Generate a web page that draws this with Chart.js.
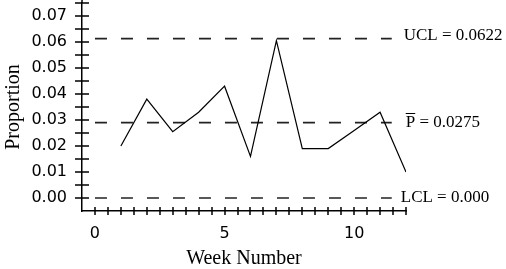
<!DOCTYPE html>
<html>
<head>
<meta charset="utf-8">
<title>Proportion by week</title>
<script src="https://cdn.jsdelivr.net/npm/chart.js@4.4.1/dist/chart.umd.min.js"></script>
<style>
  html, body { margin: 0; padding: 0; background: #fff; }
  #wrap { width: 506px; height: 269px; }
</style>
</head>
<body>
<div id="wrap"><canvas id="pChart" width="506" height="269"></canvas></div>
<script>
'use strict';

// weekly proportions
const weeks = [1, 2, 3, 4, 5, 6, 7, 8, 9, 10, 11, 12];
const proportions = [0.020, 0.038, 0.0255, 0.033, 0.043, 0.016, 0.0605, 0.019, 0.019, 0.026, 0.033, 0.010];

// control lines: level where each is drawn, and its label
const limitLevels = [0.0613, 0.029, 0.000];
const limitLabels = ['UCL = 0.0622', 'P = 0.0275', 'LCL = 0.000'];
const limitSpan = [0, 11.45];

// labelled ticks
const yLabelValues = [0, 0.01, 0.02, 0.03, 0.04, 0.05, 0.06, 0.07];
const xLabelValues = [0, 5, 10];

const tickFont = { family: '"DejaVu Sans", sans-serif', size: 16 };
const serifFont = '"Liberation Serif", "Times New Roman", serif';

const findLabel = function (list, v, digits) {
  for (let i = 0; i < list.length; i++) {
    if (Math.abs(list[i] - v) < 1e-9) return list[i].toFixed(digits);
  }
  return '';
}

/**
 * Small tick marks crossing both axes
 */
const axisTicks = {
  id: 'axisTicks',
  afterDraw(chart) {
    const { ctx, chartArea, scales: { x, y } } = chart;
    ctx.save();
    ctx.strokeStyle = '#000';
    ctx.lineWidth = 1.5;
    ctx.beginPath();
    y.ticks.forEach(t => {
      if (Math.abs(t.value - y.min) < 1e-9) return;
      const py = Math.round(y.getPixelForValue(t.value));
      ctx.moveTo(chartArea.left - 7, py);
      ctx.lineTo(chartArea.left + 7, py);
    });
    x.ticks.forEach(t => {
      if (Math.abs(t.value - x.min) < 1e-9) return;
      const px = Math.round(x.getPixelForValue(t.value));
      ctx.moveTo(px, chartArea.bottom - 4);
      ctx.lineTo(px, chartArea.bottom + 4);
    });
    // axis line runs a little above the top tick
    ctx.moveTo(chartArea.left, chartArea.top);
    ctx.lineTo(chartArea.left, 0);
    ctx.stroke();
    ctx.restore();
  }
};

/**
 * Text at the right end of each control line
 */
const limitText = {
  id: 'limitText',
  afterDatasetsDraw(chart) {
    const { ctx, scales: { x, y } } = chart;
    const xEnd = x.getPixelForValue(limitSpan[1]);
    const gaps = [12, 14, 9];
    const lifts = [-3, 0, 0];
    ctx.save();
    ctx.fillStyle = '#000';
    ctx.font = '17px ' + serifFont;
    ctx.textBaseline = 'middle';
    ctx.textAlign = 'left';
    for (let i = 0; i < limitLabels.length; i++) {
      const tx = xEnd + gaps[i];
      const ty = y.getPixelForValue(limitLevels[i]) + lifts[i];
      ctx.fillText(limitLabels[i], tx, ty);
      // bar over the P of the centre line label
      if (i === 1) {
        const w = ctx.measureText('P').width;
        ctx.strokeStyle = '#000';
        ctx.lineWidth = 1;
        ctx.beginPath();
        ctx.moveTo(tx, Math.round(ty) - 9.5);
        ctx.lineTo(tx + w, Math.round(ty) - 9.5);
        ctx.stroke();
      }
    }
    ctx.restore();
  }
};

// keep tick label overhang from pushing the plot area inwards
const noOverhang = function (scale) {
  scale.paddingTop = 0;
  scale.paddingBottom = 0;
  scale.paddingLeft = 0;
  scale.paddingRight = 0;
}

const limitSets = limitLevels.map(level => ({
  data: [{ x: limitSpan[0], y: level }, { x: limitSpan[1], y: level }],
  borderColor: '#222',
  borderWidth: 1.6,
  borderDash: [12, 14],
  pointRadius: 0,
  fill: false
}));

const ctx = document.getElementById('pChart').getContext('2d');

const pChart = new Chart(ctx, {
  type: 'line',
  data: {
    datasets: [{
      data: weeks.map((w, i) => ({ x: w, y: proportions[i] })),
      borderColor: '#000',
      borderWidth: 1.2,
      pointRadius: 0,
      tension: 0,
      fill: false
    }].concat(limitSets)
  },
  options: {
    responsive: false,
    animation: false,
    layout: { padding: { top: 3, right: 100, bottom: 0, left: 0 } },
    plugins: {
      legend: { display: false },
      tooltip: { enabled: false }
    },
    scales: {
      x: {
        type: 'linear',
        min: -0.5,
        max: 12,
        afterFit(scale) { scale.height = 58; noOverhang(scale); },
        grid: { display: true, drawOnChartArea: false, drawTicks: false },
        border: { display: true, color: '#000', width: 1.5 },
        ticks: {
          stepSize: 0.5,
          autoSkip: false,
          maxRotation: 0,
          padding: 13,
          color: '#000',
          font: tickFont,
          callback: v => findLabel(xLabelValues, v, 0)
        },
        title: {
          display: true,
          text: 'Week Number',
          color: '#000',
          font: { family: serifFont, size: 20, lineHeight: 1 },
          padding: { top: 0, bottom: 0 }
        }
      },
      y: {
        type: 'linear',
        min: -0.005,
        max: 0.075,
        afterFit(scale) { scale.width = 82; noOverhang(scale); },
        grid: { display: true, drawOnChartArea: false, drawTicks: false },
        border: { display: true, color: '#000', width: 1.5 },
        ticks: {
          stepSize: 0.005,
          autoSkip: false,
          padding: 15,
          color: '#000',
          font: tickFont,
          callback: v => findLabel(yLabelValues, v, 2)
        },
        title: {
          display: true,
          text: 'Proportion',
          color: '#000',
          font: { family: serifFont, size: 20, lineHeight: 1 },
          padding: { top: 4, bottom: 0 }
        }
      }
    }
  },
  plugins: [axisTicks, limitText]
});
</script>
</body>
</html>
